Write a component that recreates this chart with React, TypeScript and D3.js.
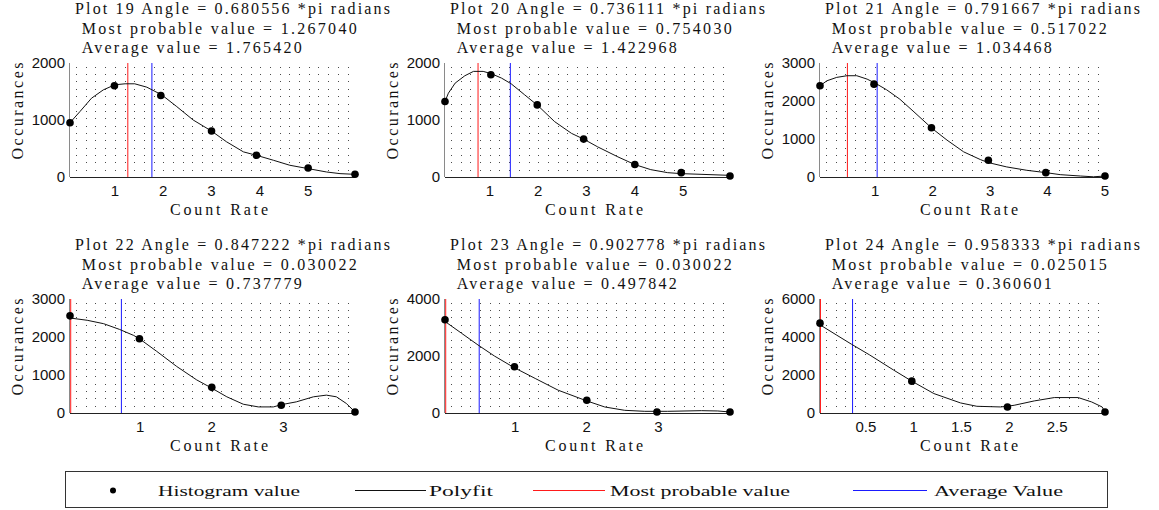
import React from 'react';
import * as d3 from 'd3';

const W = 1159;
const H = 510;

// ---- Plot 19 ----
const p19HistX = [0.07, 0.99, 1.95, 3.0, 3.93, 5.0, 5.97];
const p19HistY = [953, 1600, 1429, 806, 382, 159, 47];
const p19FitX = [0.07, 0.275, 0.515, 0.76, 1.0, 1.21, 1.41, 1.66, 1.97, 2.28, 2.62, 3.0, 3.31, 3.66, 3.97, 4.28, 4.62, 5.0, 5.38, 5.66, 5.97];
const p19FitY = [953, 1147, 1382, 1529, 1618, 1635, 1635, 1576, 1441, 1235, 1000, 806, 618, 441, 371, 294, 206, 147, 88, 59, 47];

// ---- Plot 20 ----
const p20HistX = [0.07, 1.02, 1.98, 2.94, 4.0, 4.96, 5.97];
const p20HistY = [1324, 1794, 1265, 665, 218, 76, 18];
const p20FitX = [0.07, 0.14, 0.28, 0.48, 0.66, 0.86, 1.03, 1.24, 1.44, 1.72, 2.0, 2.34, 2.69, 2.94, 3.23, 3.65, 4.0, 4.33, 4.68, 4.96, 5.37, 5.97];
const p20FitY = [1324, 1470, 1647, 1776, 1853, 1853, 1812, 1735, 1635, 1441, 1247, 971, 765, 665, 529, 353, 218, 129, 76, 59, 47, 29];

// ---- Plot 21 ----
const p21HistX = [0.04, 0.98, 1.98, 2.97, 3.97, 5.0];
const p21HistY = [2400, 2444, 1297, 441, 115, 26];
const p21FitX = [0.04, 0.16, 0.33, 0.51, 0.68, 0.86, 1.0, 1.2, 1.43, 1.67, 1.99, 2.25, 2.54, 2.83, 2.97, 3.29, 3.64, 3.97, 4.22, 4.57, 4.8, 5.0];
const p21FitY = [2400, 2532, 2621, 2665, 2665, 2576, 2471, 2294, 2047, 1721, 1279, 971, 662, 459, 379, 265, 176, 115, 62, 26, 5, 26];

// ---- Plot 22 ----
const p22HistX = [0.02, 0.99, 2.0, 2.97, 4.0];
const p22HistY = [2556, 1953, 675, 204, 27];
const p22FitX = [0.02, 0.26, 0.49, 0.71, 0.91, 0.99, 1.23, 1.51, 1.79, 1.98, 2.21, 2.44, 2.65, 2.86, 2.98, 3.18, 3.42, 3.6, 3.74, 3.88, 4.0];
const p22FitY = [2500, 2440, 2350, 2201, 2041, 1953, 1624, 1225, 870, 675, 426, 231, 160, 160, 222, 293, 426, 470, 426, 249, 27];

// ---- Plot 23 ----
const p23HistX = [0.02, 0.99, 2.0, 2.98, 4.0];
const p23HistY = [3270, 1623, 447, 35, 35];
const p23FitX = [0.02, 0.25, 0.48, 0.71, 0.98, 1.28, 1.6, 2.0, 2.25, 2.53, 2.81, 3.13, 3.6, 3.83, 4.0];
const p23FitY = [3212, 2800, 2388, 2000, 1600, 1212, 800, 424, 212, 94, 59, 59, 82, 71, 35];

// ---- Plot 24 ----
const p24HistX = [0.02, 0.98, 1.98, 3.0];
const p24HistY = [4729, 1676, 318, 53];
const p24FitX = [0.02, 0.19, 0.35, 0.54, 0.79, 0.98, 1.21, 1.49, 1.66, 1.91, 2.05, 2.26, 2.47, 2.72, 2.86, 2.97, 3.0];
const p24FitY = [4641, 4112, 3618, 3053, 2259, 1676, 1024, 529, 353, 318, 406, 635, 812, 812, 582, 318, 53];

const plotIds = [19, 20, 21, 22, 23, 24];
const angles = [0.680556, 0.736111, 0.791667, 0.847222, 0.902778, 0.958333];
const modes = [1.26704, 0.75403, 0.517022, 0.030022, 0.030022, 0.025015];
const means = [1.76542, 1.422968, 1.034468, 0.737779, 0.497842, 0.360601];
const yTickSets = [
  [0, 1000, 2000],
  [0, 1000, 2000],
  [0, 1000, 2000, 3000],
  [0, 1000, 2000, 3000],
  [0, 2000, 4000],
  [0, 2000, 4000, 6000],
];
const xTickSets = [
  [1, 2, 3, 4, 5],
  [1, 2, 3, 4, 5],
  [1, 2, 3, 4, 5],
  [1, 2, 3],
  [1, 2, 3],
  [0.5, 1, 1.5, 2, 2.5],
];
const histXs = [p19HistX, p20HistX, p21HistX, p22HistX, p23HistX, p24HistX];
const histYs = [p19HistY, p20HistY, p21HistY, p22HistY, p23HistY, p24HistY];
const fitXs = [p19FitX, p20FitX, p21FitX, p22FitX, p23FitX, p24FitX];
const fitYs = [p19FitY, p20FitY, p21FitY, p22FitY, p23FitY, p24FitY];

const legendLabels = ['Histogram value', 'Polyfit', 'Most probable value', 'Average Value'];

// layout
const colLeft = [70, 445, 820];
const rowTop = [63, 299];
const axW = 285;
const axH = 114;
const serif = '"Liberation Serif", "Times New Roman", serif';
const sans = '"Liberation Sans", Arial, Helvetica, sans-serif';
const RED = '#ff1a1a';
const BLUE = '#1a1aff';

function Panel({ i }: { i: number }) {
  const L = colLeft[i % 3];
  const T = rowTop[Math.floor(i / 3)];
  const B = T + axH;
  const hx = histXs[i];
  const hy = histYs[i];
  const yTicks = yTickSets[i];
  const x = d3.scaleLinear().domain(d3.extent(hx) as [number, number]).range([L, L + axW]);
  const y = d3.scaleLinear().domain([0, yTicks[yTicks.length - 1]]).range([B, T]);
  const fx = fitXs[i];
  const fy = fitYs[i];
  const line = d3
    .line<number>()
    .x((_, k) => x(fx[k]))
    .y((d) => y(d));

  // dotted grid lattice
  let grid = '';
  for (let gx = L + 6; gx <= L + axW - 5; gx += 9.7) {
    for (let gy = T + 3.7; gy < B - 3; gy += 7.36) {
      grid += `M${Math.round(gx)} ${Math.round(gy)}h1v1h-1z`;
    }
  }

  const titleX1 = L + 5;
  const titleX2 = L + 11.7;
  const tb = T - 49;

  return (
    <g>
      <path d={grid} fill="#4a4a4a" />
      {/* axes */}
      <line x1={L - 0.5} x2={L - 0.5} y1={T} y2={B} stroke="#8a8a8a" strokeWidth={1} />
      <line x1={L} x2={L + axW} y1={B + 0.5} y2={B + 0.5} stroke="#222" strokeWidth={1} />
      {/* mode / mean lines */}
      <line x1={x(modes[i])} x2={x(modes[i])} y1={y(0)} y2={T} stroke={RED} strokeWidth={1} />
      <line x1={x(means[i])} x2={x(means[i])} y1={y(0)} y2={T} stroke={BLUE} strokeWidth={1} />
      {/* polyfit */}
      <path d={line(fy) || ''} fill="none" stroke="#111" strokeWidth={1} />
      {/* histogram points */}
      {hx.map((v, k) => (
        <circle key={k} cx={x(v)} cy={y(hy[k])} r={3.8} fill="#000" />
      ))}
      {/* y tick labels */}
      {yTicks.map((t) => (
        <text key={'y' + t} x={L - 5} y={y(t)} dy="0.36em" textAnchor="end" fontFamily={sans} fontSize={15} fill="#111">
          {t}
        </text>
      ))}
      {/* x tick labels */}
      {xTickSets[i].map((t) => (
        <text key={'x' + t} x={x(t)} y={B + 19} textAnchor="middle" fontFamily={sans} fontSize={15} fill="#111">
          {String(t)}
        </text>
      ))}
      {/* titles */}
      <text x={titleX1} y={tb} fontFamily={serif} fontSize={16} textLength={315} lengthAdjust="spacing" fill="#111">
        {`Plot ${plotIds[i]} Angle = ${angles[i].toFixed(6)} *pi radians`}
      </text>
      <text x={titleX2} y={tb + 19.5} fontFamily={serif} fontSize={16} textLength={275} lengthAdjust="spacing" fill="#111">
        {`Most probable value = ${modes[i].toFixed(6)}`}
      </text>
      <text x={titleX2} y={tb + 39} fontFamily={serif} fontSize={16} textLength={220} lengthAdjust="spacing" fill="#111">
        {`Average value = ${means[i].toFixed(6)}`}
      </text>
      {/* axis labels */}
      <text x={L + 149} y={B + 38} textAnchor="middle" fontFamily={serif} fontSize={16} textLength={98} lengthAdjust="spacing" fill="#111">
        Count Rate
      </text>
      <text
        transform={`translate(${L - 47},${T + 48}) rotate(-90)`}
        textAnchor="middle"
        fontFamily={serif}
        fontSize={16}
        textLength={97}
        lengthAdjust="spacing"
        fill="#111"
      >
        Occurances
      </text>
    </g>
  );
}

function Legend() {
  const ly = 490.5;
  return (
    <g>
      <rect x={65.5} y={471.5} width={1042} height={36} fill="#fff" stroke="#333" strokeWidth={1} />
      <circle cx={113} cy={ly} r={3} fill="#000" />
      <text x={158} y={ly + 5} fontFamily={serif} fontSize={15} textLength={142} lengthAdjust="spacingAndGlyphs" fill="#111">
        {legendLabels[0]}
      </text>
      <line x1={355} x2={426} y1={ly} y2={ly} stroke="#111" strokeWidth={1} />
      <text x={429} y={ly + 5} fontFamily={serif} fontSize={15} textLength={64} lengthAdjust="spacingAndGlyphs" fill="#111">
        {legendLabels[1]}
      </text>
      <line x1={533} x2={605} y1={ly} y2={ly} stroke={RED} strokeWidth={1} />
      <text x={610} y={ly + 5} fontFamily={serif} fontSize={15} textLength={180} lengthAdjust="spacingAndGlyphs" fill="#111">
        {legendLabels[2]}
      </text>
      <line x1={853} x2={927} y1={ly} y2={ly} stroke={BLUE} strokeWidth={1} />
      <text x={934} y={ly + 5} fontFamily={serif} fontSize={15} textLength={129} lengthAdjust="spacingAndGlyphs" fill="#111">
        {legendLabels[3]}
      </text>
    </g>
  );
}

export default function App() {
  return (
    <svg
      width={W}
      height={H}
      viewBox={`0 0 ${W} ${H}`}
      style={{ position: 'absolute', left: 0, top: 0, display: 'block', background: '#fff' }}
    >
      <rect x={0} y={0} width={W} height={H} fill="#fff" />
      {plotIds.map((_, i) => (
        <Panel key={i} i={i} />
      ))}
      <Legend />
    </svg>
  );
}
